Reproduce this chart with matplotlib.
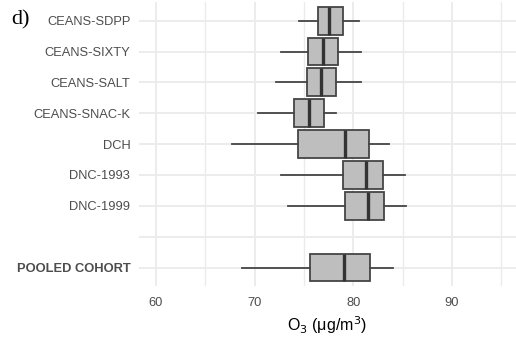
import matplotlib
matplotlib.use("Agg")
import matplotlib.pyplot as plt

# cohorts top to bottom, "" is the blank spacer row
cohorts = ["CEANS-SDPP", "CEANS-SIXTY", "CEANS-SALT", "CEANS-SNAC-K",
           "DCH", "DNC-1993", "DNC-1999", "", "POOLED COHORT"]
whislo = [74.5, 72.7, 72.2, 70.3, 67.7, 72.7, 73.4, None, 68.7]
q1     = [76.4, 75.4, 75.3, 74.0, 74.4, 79.0, 79.2, None, 75.6]
med    = [77.5, 76.9, 76.7, 75.5, 79.2, 81.3, 81.5, None, 79.1]
q3     = [79.0, 78.4, 78.2, 77.0, 81.6, 83.0, 83.1, None, 81.7]
whishi = [80.6, 80.8, 80.8, 78.2, 83.6, 85.2, 85.3, None, 84.0]

xticks = [60, 70, 80, 90]
xminor = [65, 75, 85, 95]

plt.rcParams['font.family'] = ['Liberation Sans', 'DejaVu Sans']

fig = plt.figure(figsize=(5.16, 3.42), dpi=100)
ax = fig.add_axes([0.2688, 0.1637, 1 - 0.2688, 0.830])

ypos = list(range(len(cohorts), 0, -1))
stats = []
positions = []
for i in range(len(cohorts)):
    if med[i] is None:
        continue
    stats.append(dict(whislo=whislo[i], q1=q1[i], med=med[i], q3=q3[i],
                      whishi=whishi[i], fliers=[]))
    positions.append(ypos[i])

edge = "#454545"
ax.bxp(stats, positions=positions, vert=False, widths=0.9, showcaps=False,
       showfliers=False, patch_artist=True,
       boxprops=dict(facecolor="#bebebe", edgecolor=edge, linewidth=1.3),
       whiskerprops=dict(color=edge, linewidth=1.3),
       medianprops=dict(color="#333333", linewidth=2.4),
       zorder=3)

ax.set_xlim(58.25, 96.48)
ax.set_ylim(0.4, len(cohorts) + 0.6)
ax.set_xticks(xticks)
ax.set_xticks(xminor, minor=True)
ax.set_yticks(ypos)
ax.set_yticklabels(cohorts)
for lab in ax.get_yticklabels():
    if lab.get_text() == "POOLED COHORT":
        lab.set_fontweight("bold")

ax.grid(True, which="major", color="#ebebeb", linewidth=1.3, zorder=0)
ax.grid(True, which="minor", axis="x", color="#ebebeb", linewidth=1.0, zorder=0)
ax.set_axisbelow(True)
for s in ax.spines.values():
    s.set_visible(False)
ax.tick_params(axis="both", which="both", length=0, colors="#4d4d4d",
               labelsize=9.3)
ax.tick_params(axis="x", pad=8)
ax.tick_params(axis="y", pad=6)

ax.set_xlabel(r"O$_3$ ($\mathregular{\mu}$g/m$^3$)", fontsize=11.5,
              color="black", labelpad=4)

fig.text(0.022, 0.928, "d)", family="Liberation Serif", fontsize=16,
         color="black")

plt.savefig("out.png", dpi=100)
